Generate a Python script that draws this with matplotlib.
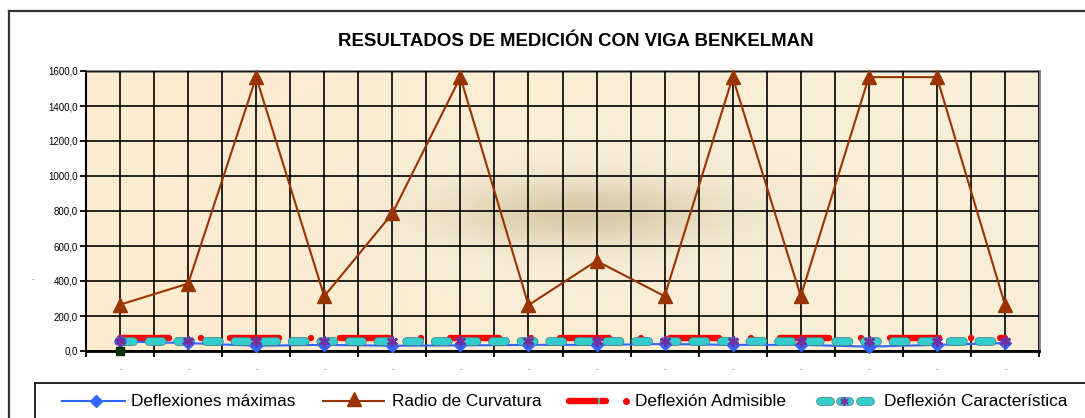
import numpy as np
import matplotlib
matplotlib.use("Agg")
import matplotlib.pyplot as plt
from matplotlib.lines import Line2D
import matplotlib.patheffects as pe

plt.rcParams['font.family'] = ['Liberation Sans', 'DejaVu Sans']
plt.rcParams['lines.scale_dashes'] = False

# ---------------- data ----------------
titulo = "RESULTADOS DE MEDICIÓN CON VIGA BENKELMAN"
puntos = list(range(14))
etiquetas_x = ['.'] * 14
deflexiones_maximas = [55, 45, 30, 35, 30, 32, 35, 35, 40, 35, 35, 25, 35, 45]
radio_curvatura = [265, 385, 1565, 313, 786, 1565, 262, 515, 313, 1565, 313, 1565, 1565, 265]
deflexion_admisible = [72] * 14
deflexion_caracteristica = [55] * 14
marca_inicial_x = [0]
marca_inicial_y = [0]
y_ticks = [0, 200, 400, 600, 800, 1000, 1200, 1400, 1600]
y_labels = ['0,0', '200,0', '400,0', '600,0', '800,0', '1000,0', '1200,0', '1400,0', '1600,0']
nombres = ['Deflexiones máximas', 'Radio de Curvatura', 'Deflexión Admisible', 'Deflexión Característica']

W, H = 1085, 418
fig = plt.figure(figsize=(W / 100, H / 100), dpi=100)
fig.patch.set_facecolor('white')

def fx(x):
    return x / W

def fy(y):
    return 1 - y / H

ax_l, ax_r, ax_t, ax_b = 86, 1039, 71, 351
ax = fig.add_axes([fx(ax_l), fy(ax_b), (ax_r - ax_l) / W, (ax_b - ax_t) / H])

# background (beige gradient with a soft brown blur in the middle)
ph, pw = ax_b - ax_t, ax_r - ax_l
yy, xx = np.mgrid[0:ph, 0:pw]
t = (xx / (pw - 1))[..., None]
left = np.array([252, 236, 208]) / 255
right = np.array([249, 239, 216]) / 255
img = left * (1 - t) + right * t
# lighter halo
cx, cy = 585 - ax_l, 212 - ax_t
h = np.exp(-(((xx - cx) / 260) ** 2 + ((yy - cy) / 90) ** 2))[..., None]
halo = np.array([244, 237, 218]) / 255
img = img * (1 - 0.8 * h) + halo * 0.8 * h
g = np.exp(-(np.abs((xx - cx) / 135) ** 2.2 + np.abs((yy - cy) / 32) ** 2.2))[..., None]
dark = np.array([212, 197, 160]) / 255
img = img * (1 - 0.85 * g) + dark * 0.85 * g
ax.imshow(img, extent=(-0.5, 13.5, 0, 1600), aspect='auto', origin='upper',
          zorder=0, interpolation='bilinear')

ax.set_xlim(-0.5, 13.5)
ax.set_ylim(0, 1600)

# series
ax.plot(puntos, deflexion_admisible, color='#ff0000', lw=4.6,
        dashes=(35.3, 23, 0.01, 20.9), dash_capstyle='round', zorder=3)
ax.plot(puntos, deflexiones_maximas, color='#3366ff', lw=1.5, zorder=3.5)
ax.plot(puntos, deflexion_caracteristica, color='#33cccc', lw=5.3,
        dashes=(9.4, 11.2), dash_capstyle='round', zorder=4,
        path_effects=[pe.Stroke(linewidth=6.3, foreground='#4f7a7a'), pe.Normal()])
ax.plot(puntos, deflexiones_maximas, ls='none', marker='D', ms=6, color='#3366ff',
        mec='#3366ff', zorder=4.5, clip_on=False)
ax.plot(puntos, deflexion_caracteristica, ls='none', marker=(6, 2, 0), ms=8,
        color='#7030a0', mew=1.8, zorder=5)
ax.plot(puntos, radio_curvatura, color='#993300', lw=1.5, marker='^', ms=10.5,
        zorder=6, clip_on=False)
ax.plot(marca_inicial_x, marca_inicial_y, ls='none', marker='s', ms=5.5,
        color='#003300', zorder=6, clip_on=False)

# grid / ticks
bordes = [i - 0.5 for i in range(15)]
ax.set_xticks(bordes)
ax.set_xticks(puntos, minor=True)
ax.set_xticklabels([''] * len(bordes))
ax.set_xticklabels(etiquetas_x, minor=True, fontsize=6)
ax.tick_params(axis='x', which='major', direction='out', length=4, width=1.3,
               color='black')
ax.tick_params(axis='x', which='minor', length=0, pad=10)
ax.set_yticks(y_ticks)
ax.set_yticklabels(y_labels, fontsize=7)
ax.tick_params(axis='y', direction='out', length=4, width=1.3, pad=2)
ax.grid(which='both', axis='x', color='black', lw=1.2, zorder=1)
ax.grid(which='major', axis='y', color='black', lw=1.2, zorder=1)
ax.set_axisbelow(False)

for side in ['left', 'bottom']:
    ax.spines[side].set_color('black')
ax.spines['left'].set_linewidth(1.5)
ax.spines['bottom'].set_linewidth(2)
for side in ['top', 'right']:
    ax.spines[side].set_color('#7f7f7f')
    ax.spines[side].set_linewidth(2)

# title
fig.text(fx(576), fy(42), titulo, ha='center', va='center', fontsize=13.4,
         fontweight='bold')

# stray y-axis title dot
fig.text(fx(32), fy(279), '.', ha='center', va='center', fontsize=6)

# outer frame
fig.add_artist(Line2D([fx(9), fx(1090)], [fy(11), fy(11)], color='#333333', lw=1.6))
fig.add_artist(Line2D([fx(9), fx(9)], [fy(11), fy(430)], color='#333333', lw=1.6))

# legend box
fig.add_artist(Line2D([fx(35), fx(1090)], [fy(383), fy(383)], color='#222222', lw=1.4))
fig.add_artist(Line2D([fx(35), fx(35)], [fy(383), fy(430)], color='#222222', lw=1.4))

ly = 401
def seg(x0, x1, **kw):
    fig.add_artist(Line2D([fx(x0), fx(x1)], [fy(ly), fy(ly)], **kw))

def mark(x, y=ly, **kw):
    fig.add_artist(Line2D([fx(x)], [fy(y)], ls='none', **kw))

# entry 1
seg(62, 125, color='#3366ff', lw=1.5)
mark(96, marker='D', ms=6, color='#3366ff')
fig.text(fx(131), fy(ly), nombres[0], va='center', ha='left', fontsize=12.4)
# entry 2
seg(323, 384, color='#993300', lw=1.5)
mark(354, y=ly - 2, marker='^', ms=10, color='#993300')
fig.text(fx(392), fy(ly), nombres[1], va='center', ha='left', fontsize=12.4)
# entry 3
seg(569, 606, color='#ff0000', lw=4.6, solid_capstyle='round')
mark(599, marker='|', ms=5, color='#33cccc', mew=1.2)
mark(626, marker='o', ms=4, color='#ff0000')
fig.text(fx(635), fy(ly), nombres[2], va='center', ha='left', fontsize=12.4)
# entry 4
for a, b in [(820, 830), (840, 849), (860, 870)]:
    seg(a, b, color='#33cccc', lw=5.3, solid_capstyle='round',
        path_effects=[pe.Stroke(linewidth=6.3, foreground='#4f7a7a'), pe.Normal()])
mark(844, marker=(6, 2, 0), ms=6, color='#7030a0', mew=1.2)
fig.text(fx(884), fy(ly), nombres[3], va='center', ha='left', fontsize=12.4)

fig.savefig('out.png', dpi=100)
